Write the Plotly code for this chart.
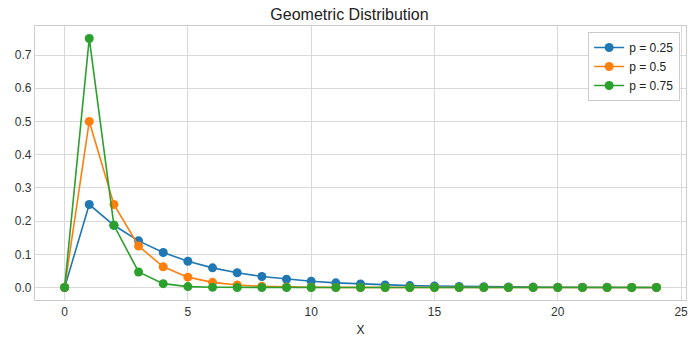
import plotly.graph_objects as go

# Probability mass values for x = 0..24
x_values = list(range(25))
pmf_p025 = [0.0, 0.25, 0.1875, 0.1406, 0.1055, 0.0791, 0.0593, 0.0445, 0.0334, 0.0250,
            0.0188, 0.0141, 0.0106, 0.0079, 0.0059, 0.0045, 0.0033, 0.0025, 0.0019,
            0.0014, 0.0011, 0.0008, 0.0006, 0.0004, 0.0003]
pmf_p050 = [0.0, 0.5, 0.25, 0.125, 0.0625, 0.0313, 0.0156, 0.0078, 0.0039, 0.0020,
            0.0010, 0.0005, 0.0002, 0.0001, 0.0001, 0.0, 0.0, 0.0, 0.0,
            0.0, 0.0, 0.0, 0.0, 0.0, 0.0]
pmf_p075 = [0.0, 0.75, 0.1875, 0.0469, 0.0117, 0.0029, 0.0007, 0.0002, 0.0, 0.0,
            0.0, 0.0, 0.0, 0.0, 0.0, 0.0, 0.0, 0.0, 0.0,
            0.0, 0.0, 0.0, 0.0, 0.0, 0.0]
series_names = ["p = 0.25", "p = 0.5", "p = 0.75"]
series_colors = ["#1f77b4", "#ff7f0e", "#2ca02c"]

fig = go.Figure()
for name, ys, color in zip(series_names, [pmf_p025, pmf_p050, pmf_p075], series_colors):
    fig.add_trace(go.Scatter(
        x=x_values, y=ys, name=name, mode="lines+markers",
        line=dict(color=color, width=1.6),
        marker=dict(color=color, size=9),
    ))

axis_common = dict(
    showgrid=True, gridcolor="#d9d9d9", gridwidth=1,
    showline=True, linecolor="#cccccc", linewidth=1.2, mirror=True,
    zeroline=False, ticks="", tickfont=dict(size=12, color="#333333"),
)

fig.update_layout(
    width=699, height=348,
    margin=dict(l=35, r=11, t=26, b=48),
    paper_bgcolor="white", plot_bgcolor="white",
    font=dict(family="Liberation Sans, Arial, sans-serif", color="#222222"),
    title=dict(text="Geometric Distribution", x=0.5, xanchor="center",
               y=1 - 14 / 348, yanchor="middle", font=dict(size=16, color="#222222")),
    xaxis=dict(range=[-1.2, 25.2], tickvals=[0, 5, 10, 15, 20, 25],
               title=dict(text="X", font=dict(size=12, color="#222222"), standoff=8),
               **axis_common),
    yaxis=dict(range=[-0.0375, 0.7875], tickvals=[0, 0.1, 0.2, 0.3, 0.4, 0.5, 0.6, 0.7],
               tickformat=".1f", **axis_common),
    showlegend=True,
    legend=dict(x=0.991, y=0.978, xanchor="right", yanchor="top",
                bgcolor="rgba(255,255,255,0.85)", bordercolor="#cccccc", borderwidth=1,
                font=dict(size=12, color="#222222"), itemwidth=30,
                tracegroupgap=0),
)

fig.write_html("out.html")
